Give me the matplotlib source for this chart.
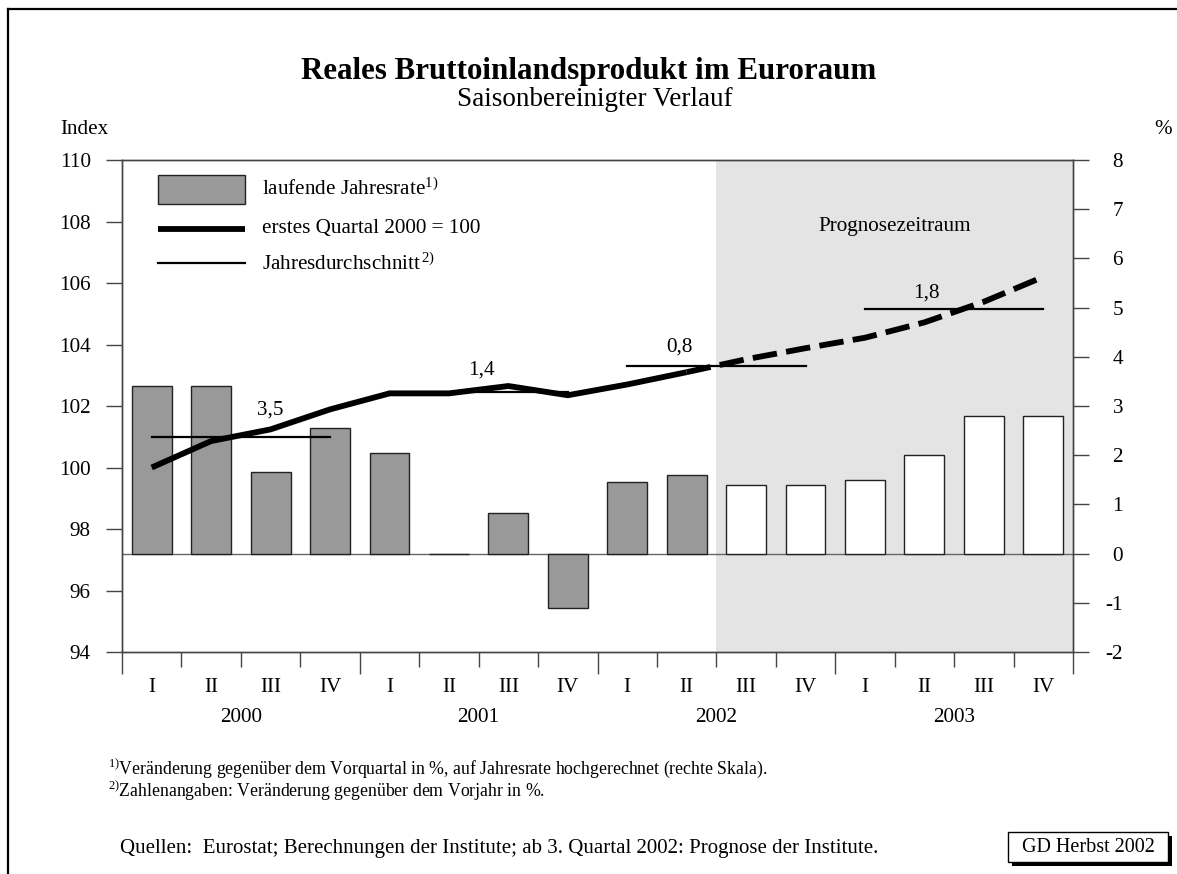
import matplotlib
matplotlib.use("Agg")
import matplotlib.pyplot as plt
import matplotlib.transforms as mtransforms
from matplotlib.lines import Line2D
from matplotlib.patches import Rectangle
import numpy as np

plt.rcParams['font.family'] = ['Liberation Serif', 'DejaVu Serif']
plt.rcParams['mathtext.fontset'] = 'custom'
plt.rcParams['mathtext.rm'] = 'Liberation Serif'
plt.rcParams['mathtext.it'] = 'Liberation Serif:italic'
plt.rcParams['mathtext.bf'] = 'Liberation Serif:bold'

# ---------------- data ----------------
quarters = ["I", "II", "III", "IV"] * 4
years = ["2000", "2001", "2002", "2003"]
rate = [3.4, 3.4, 1.65, 2.55, 2.05, 0.0, 0.83, -1.1,
        1.45, 1.6, 1.4, 1.4, 1.5, 2.0, 2.8, 2.8]          # % (right scale)
index = [100.0, 100.86, 101.24, 101.89, 102.41, 102.41, 102.65, 102.35,
         102.7, 103.1, 103.52, 103.88, 104.22, 104.72, 105.39, 106.2]  # Index
forecast_start = 10      # first forecast quarter (2002 III)
year_avg_index = [101.0, 102.45, 103.3, 105.15]
year_avg_label = ["3,5", "1,4", "0,8", "1,8"]
label_pos_x = [2.0, 5.54, 8.88, 13.03]
label_pos_y = [101.87, 103.17, 103.92, 105.68]
left_ticks = [94, 96, 98, 100, 102, 104, 106, 108, 110]
right_ticks = [-2, -1, 0, 1, 2, 3, 4, 5, 6, 7, 8]

W, H = 1177, 874
fig = plt.figure(figsize=(W / 100, H / 100), dpi=100)
FS = 15.2

ax = fig.add_axes([122 / W, 1 - 652 / H, 951 / W, 492 / H])
ax2 = ax.twinx()

n = len(rate)
x = np.arange(n)
ax.set_xlim(-0.5, n - 0.5)
ax.set_ylim(-2, 8)
ax2.set_ylim(94, 110)

# forecast shading
ax.axvspan(forecast_start - 0.5, n - 0.5, color="#e4e4e4", lw=0, zorder=0)

# bars
colors = ["#999999" if i < forecast_start else "white" for i in range(n)]
ax.bar(x, rate, width=0.67, color=colors, edgecolor="#222222", linewidth=1.0, zorder=2)
ax.axhline(0, color="#666666", lw=1.0, zorder=1.5)

# index line
ax2.plot(x[:forecast_start], index[:forecast_start], color="black", lw=4.2,
         solid_capstyle="butt", solid_joinstyle="miter", zorder=3)
ax2.plot(x[forecast_start - 1:], index[forecast_start - 1:], color="black", lw=4.2,
         dashes=(4.2, 1.6), dash_capstyle="butt", zorder=3)

# yearly averages
for k in range(4):
    ax2.plot([4 * k, 4 * k + 3], [year_avg_index[k]] * 2, color="black", lw=1.6, zorder=2.5)
    ax2.text(label_pos_x[k], label_pos_y[k], year_avg_label[k], fontsize=FS,
             ha="center", va="center", zorder=4)

ax2.text(12.5, 107.83, "Prognosezeitraum", fontsize=FS, ha="center", va="center")

# axes styling
spine_col = "#444444"
for a in (ax, ax2):
    for s in a.spines.values():
        s.set_color(spine_col)
        s.set_linewidth(1.0)
        s.set_zorder(5)

ax.yaxis.tick_right()
ax.set_yticks(right_ticks)
ax.set_yticklabels([str(v) for v in right_ticks])
ax.tick_params(axis="y", which="both", direction="out", length=11.5, width=1.0,
               color=spine_col, labelsize=FS, pad=24.5)
for lab in ax.get_yticklabels():
    lab.set_horizontalalignment("right")

ax2.yaxis.tick_left()
ax2.set_yticks(left_ticks)
ax2.set_yticklabels([str(v) for v in left_ticks])
ax2.tick_params(axis="y", direction="out", length=11.5, width=1.0, color=spine_col,
                labelsize=FS, pad=11.0)

ax.set_xticks([-0.5, 3.5, 7.5, 11.5, 15.5])
ax.set_xticks([i - 0.5 for i in range(n + 1) if i % 4 != 0], minor=True)
ax.tick_params(axis="x", which="major", direction="out", length=16, width=1.0,
               color=spine_col, labelbottom=False)
ax.tick_params(axis="x", which="minor", direction="out", length=10.8, width=1.0,
               color=spine_col, labelbottom=False)
ax2.tick_params(axis="x", which="both", bottom=False, top=False, labelbottom=False)

trans = mtransforms.blended_transform_factory(ax.transData, ax.transAxes)
off_q = -35 / 492
off_y = -66 / 492
for i, q in enumerate(quarters):
    ax.text(i, off_q, q, transform=trans, ha="center", va="center", fontsize=FS)
for k, yr in enumerate(years):
    ax.text(4 * k + 1.5, off_y, yr, transform=trans, ha="center", va="center", fontsize=FS)

# legend (manual)
ax.add_patch(Rectangle((0.0379, 0.9106), 0.0914, 0.0589, transform=ax.transAxes,
                       facecolor="#999999", edgecolor="#222222", lw=1.0, zorder=4))
ax.add_line(Line2D([0.0379, 0.1293], [0.8598, 0.8598], transform=ax.transAxes,
                   color="black", lw=4.2, solid_capstyle="butt", zorder=4))
ax.add_line(Line2D([0.0379, 0.1293], [0.7907, 0.7907], transform=ax.transAxes,
                   color="black", lw=1.6, zorder=4))
ax.text(0.1472, 0.941, r"laufende Jahresrate$^{1)}$", transform=ax.transAxes,
        fontsize=FS, va="center", ha="left")
ax.text(0.1472, 0.8598, "erstes Quartal 2000 = 100", transform=ax.transAxes,
        fontsize=FS, va="center", ha="left")
ax.text(0.1472, 0.7886, r"Jahresdurchschnitt$^{\,2)}$", transform=ax.transAxes,
        fontsize=FS, va="center", ha="left")

# titles
fig.text(589 / W, 1 - 72 / H, "Reales Bruttoinlandsprodukt im Euroraum",
         fontsize=22.3, fontweight="bold", ha="center", va="center")
fig.text(595 / W, 1 - 99 / H, "Saisonbereinigter Verlauf", fontsize=19.5,
         ha="center", va="center")
fig.text(84 / W, 1 - 129 / H, "Index", fontsize=FS, ha="center", va="center")
fig.text(1163 / W, 1 - 129 / H, "%", fontsize=FS, ha="center", va="center")

# footnotes
fig.text(108 / W, 1 - 768 / H,
         r"$^{1)}$Veränderung gegenüber dem Vorquartal in %, auf Jahresrate hochgerechnet (rechte Skala).",
         fontsize=12.8, ha="left", va="center")
fig.text(108 / W, 1 - 791 / H,
         r"$^{2)}$Zahlenangaben: Veränderung gegenüber dem Vorjahr in %.",
         fontsize=12.8, ha="left", va="center")
fig.text(120 / W, 1 - 849 / H,
         "Quellen:  Eurostat; Berechnungen der Institute; ab 3. Quartal 2002: Prognose der Institute.",
         fontsize=15.0, ha="left", va="center")

# GD Herbst box with shadow
fig.patches.append(Rectangle((1012 / W, 1 - 866 / H), 160 / W, 30 / H,
                             transform=fig.transFigure, facecolor="black",
                             edgecolor="black", lw=0))
fig.patches.append(Rectangle((1008 / W, 1 - 862 / H), 160 / W, 30 / H,
                             transform=fig.transFigure, facecolor="white",
                             edgecolor="black", lw=1.0))
fig.text(1088 / W, 1 - 847 / H, "GD Herbst 2002", fontsize=14.5, ha="center", va="center")

# outer frame (left and top edges)
fig.add_artist(Line2D([8 / W, 8 / W], [0, 1 - 9 / H], transform=fig.transFigure,
                      color="black", lw=1.6))
fig.add_artist(Line2D([8 / W, 1], [1 - 9 / H, 1 - 9 / H], transform=fig.transFigure,
                      color="black", lw=1.6))

fig.savefig("out.png", dpi=100)
